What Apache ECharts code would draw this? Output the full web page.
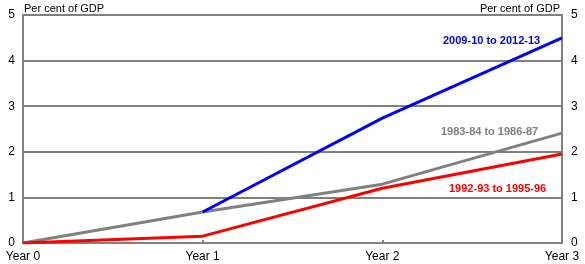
<!DOCTYPE html>
<html><head><meta charset="utf-8">
<script src="https://cdn.jsdelivr.net/npm/echarts@6/dist/echarts.min.js"></script>
<style>html,body{margin:0;padding:0;background:#fff}#c{width:585px;height:264px}</style>
</head><body><div id="c"></div>
<script>
var categories = ['Year 0', 'Year 1', 'Year 2', 'Year 3'];
var s2009 = [null, 0.68, 2.74, 4.5];
var s1983 = [0, 0.68, 1.29, 2.41];
var s1992 = [0, 0.15, 1.2, 1.95];
var yTicks = [0, 1, 2, 3, 4, 5];

var chart = echarts.init(document.getElementById('c'));
var font = 'Liberation Sans, Arial, sans-serif';
var grey = '#808080';
chart.setOption({
  animation: false,
  grid: {left: 23, right: 23, top: 15, bottom: 21, show: true, borderColor: grey, borderWidth: 2},
  xAxis: {
    type: 'category', data: categories, boundaryGap: false,
    axisLine: {lineStyle: {color: grey, width: 2}},
    axisTick: {inside: true, length: 3, lineStyle: {color: grey, width: 2}},
    axisLabel: {color: '#000', fontFamily: font, fontSize: 12, margin: 8},
    splitLine: {show: false}
  },
  yAxis: [
    {type: 'value', min: 0, max: 5, interval: 1, position: 'left',
     name: 'Per cent of GDP', nameLocation: 'end', nameGap: 3,
     nameTextStyle: {align: 'left', color: '#000', fontFamily: font, fontSize: 11, padding: [0, 0, -2, 1]},
     axisLine: {show: false}, axisTick: {show: false},
     axisLabel: {color: '#000', fontFamily: font, fontSize: 12, margin: 8,
       formatter: function (v) { return yTicks.indexOf(v) >= 0 ? String(v) : ''; }},
     splitLine: {show: true, lineStyle: {color: grey, width: 2}}},
    {type: 'value', min: 0, max: 5, interval: 1, position: 'right',
     name: 'Per cent of GDP', nameLocation: 'end', nameGap: 3,
     nameTextStyle: {align: 'right', color: '#000', fontFamily: font, fontSize: 11, padding: [0, 2, -2, 0]},
     axisLine: {show: false}, axisTick: {show: false},
     axisLabel: {color: '#000', fontFamily: font, fontSize: 12, margin: 9,
       formatter: function (v) { return yTicks.indexOf(v) >= 0 ? String(v) : ''; }},
     splitLine: {show: false}}
  ],
  series: [
    {name: '1983-84 to 1986-87', type: 'line', data: s1983, symbol: 'none',
     lineStyle: {color: grey, width: 3}},
    {name: '1992-93 to 1995-96', type: 'line', data: s1992, symbol: 'none',
     lineStyle: {color: '#ff0000', width: 3}},
    {name: '2009-10 to 2012-13', type: 'line', data: s2009, symbol: 'none',
     lineStyle: {color: '#0000ff', width: 3}}
  ],
  graphic: [
    {type: 'text', left: 443, top: 35, style: {text: '2009-10 to 2012-13', fill: '#0000ff', font: 'bold 11px ' + font}},
    {type: 'text', left: 441, top: 126, style: {text: '1983-84 to 1986-87', fill: grey, font: 'bold 11px ' + font}},
    {type: 'text', left: 449, top: 183, style: {text: '1992-93 to 1995-96', fill: '#ff0000', font: 'bold 11px ' + font}}
  ]
});
</script></body></html>
